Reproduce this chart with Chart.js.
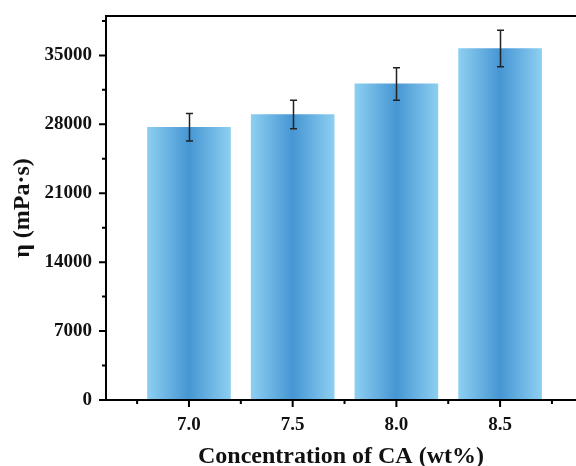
<!DOCTYPE html>
<html>
<head>
<meta charset="utf-8">
<script src="https://cdn.jsdelivr.net/npm/chart.js@4.4.1/dist/chart.umd.min.js"></script>
<style>
  html, body { margin: 0; padding: 0; background: #fff; overflow: hidden; }
  #wrap { width: 576px; height: 466px; }
</style>
</head>
<body>
<div id="wrap"><canvas id="grafico"></canvas></div>
<script>
// dados
const concentracoes = [7.0, 7.5, 8.0, 8.5];
const viscosidade = [27700, 29000, 32100, 35700];
const erros = [1400, 1450, 1650, 1850];

const ticksY = [0, 7000, 14000, 21000, 28000, 35000];
const ticksYMenores = [3500, 10500, 17500, 24500, 31500, 38500];
const ticksX = [7.0, 7.5, 8.0, 8.5];
const ticksXMenores = [6.75, 7.25, 7.75, 8.25, 8.75];

const fonteSerif = '"Liberation Serif", "DejaVu Serif", serif';

// gradiente horizontal de cada barra
function corBarra(ctx) {
    const chart = ctx.chart;
    const escala = chart.scales.x;
    if (!escala || !chart.chartArea) return '#5aa8dc';
    const ponto = ctx.raw;
    const cx = escala.getPixelForValue(ponto.x);
    const meia = 41.5;
    const g = chart.ctx.createLinearGradient(cx - meia, 0, cx + meia, 0);
    g.addColorStop(0, '#8dcff1');
    g.addColorStop(0.5, '#4696d3');
    g.addColorStop(1, '#8dcff1');
    return g;
}

// eixos, bordas, marcas e barras de erro
const pluginEixos = {
    id: 'eixos',
    afterDatasetsDraw(chart) {
        const c = chart.ctx;
        const area = chart.chartArea;
        const sx = chart.scales.x;
        const sy = chart.scales.y;

        // barras de erro
        c.save();
        c.strokeStyle = '#222';
        c.lineWidth = 1.5;
        concentracoes.forEach((x, i) => {
            const px = Math.round(sx.getPixelForValue(x)) + 0.5;
            const yTop = sy.getPixelForValue(viscosidade[i] + erros[i]);
            const yBot = sy.getPixelForValue(viscosidade[i] - erros[i]);
            c.beginPath();
            c.moveTo(px, yTop); c.lineTo(px, yBot);
            c.moveTo(px - 3.5, yTop); c.lineTo(px + 3.5, yTop);
            c.moveTo(px - 3.5, yBot); c.lineTo(px + 3.5, yBot);
            c.stroke();
        });
        c.restore();

        c.save();
        c.strokeStyle = '#000';
        c.lineWidth = 2;
        c.beginPath();
        // eixo y + borda superior
        c.moveTo(area.right, area.top);
        c.lineTo(area.left, area.top);
        c.lineTo(area.left, area.bottom);
        // eixo x
        c.lineTo(area.right, area.bottom);
        c.stroke();

        c.beginPath();
        ticksY.forEach(v => {
            const py = sy.getPixelForValue(v);
            c.moveTo(area.left, py); c.lineTo(area.left - 7, py);
        });
        ticksYMenores.forEach(v => {
            const py = sy.getPixelForValue(v);
            c.moveTo(area.left, py); c.lineTo(area.left - 4, py);
        });
        ticksX.forEach(v => {
            const px = sx.getPixelForValue(v);
            c.moveTo(px, area.bottom); c.lineTo(px, area.bottom + 7);
        });
        ticksXMenores.forEach(v => {
            const px = sx.getPixelForValue(v);
            c.moveTo(px, area.bottom); c.lineTo(px, area.bottom + 4);
        });
        c.stroke();
        c.restore();
    }
};

new Chart(document.getElementById('grafico'), {
    type: 'bar',
    data: {
        datasets: [{
            label: 'η',
            data: concentracoes.map((x, i) => ({ x: x, y: viscosidade[i] })),
            backgroundColor: corBarra,
            borderWidth: 0,
            barThickness: 83
        }]
    },
    options: {
        responsive: true,
        maintainAspectRatio: false,
        animation: false,
        layout: { padding: { top: 16, right: 0, left: 8, bottom: 0 } },
        plugins: {
            legend: { display: false },
            tooltip: { enabled: false }
        },
        scales: {
            x: {
                type: 'linear',
                offset: false,
                min: 6.6,
                max: 8.866,
                grid: { display: false, drawTicks: false, offset: false },
                border: { display: false },
                afterBuildTicks: s => { s.ticks = ticksX.map(v => ({ value: v })); },
                afterFit: s => { s.height = 66; s.paddingLeft = 0; s.paddingRight = 0; },
                ticks: {
                    padding: 14,
                    color: '#111',
                    font: { family: fonteSerif, size: 19, weight: 'bold' },
                    callback: v => v.toFixed(1)
                },
                title: {
                    display: true,
                    text: 'Concentration of CA (wt%)',
                    color: '#111',
                    padding: { top: 6, bottom: -5 },
                    font: { family: fonteSerif, size: 24, weight: 'bold' }
                }
            },
            y: {
                min: 0,
                max: 39000,
                grid: { display: false, drawTicks: false },
                border: { display: false },
                afterBuildTicks: s => { s.ticks = ticksY.map(v => ({ value: v })); },
                afterFit: s => { s.width = 98; s.paddingTop = 0; s.paddingBottom = 0; },
                ticks: {
                    padding: 14,
                    color: '#111',
                    font: { family: fonteSerif, size: 19, weight: 'bold' },
                    callback: v => String(v)
                },
                title: {
                    display: true,
                    text: 'η (mPa·s)',
                    color: '#111',
                    padding: { top: 0, bottom: 0 },
                    font: { family: fonteSerif, size: 24, weight: 'bold' }
                }
            }
        }
    },
    plugins: [pluginEixos]
});
</script>
</body>
</html>
